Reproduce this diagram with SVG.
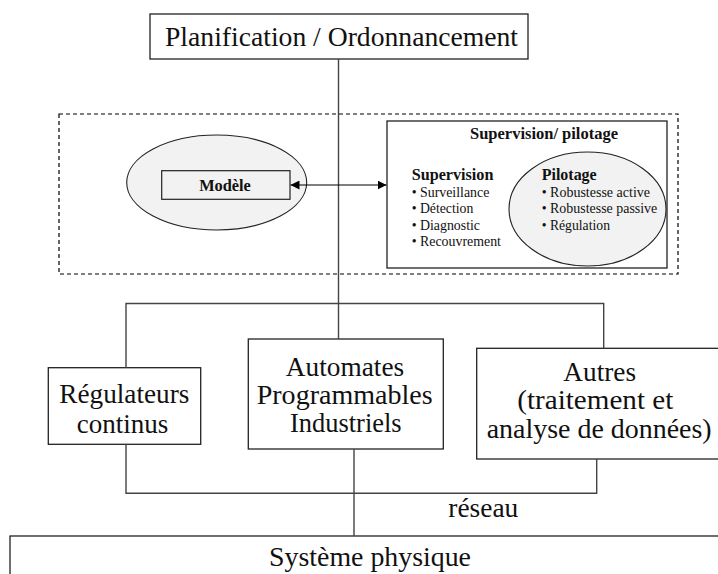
<svg xmlns="http://www.w3.org/2000/svg" width="718" height="574" viewBox="0 0 718 574">
<defs>
<style>
.box{fill:#fff;stroke:#222;stroke-width:1.3}
.ell{fill:#f2f2f2;stroke:#222;stroke-width:1.1}
.ln{fill:none;stroke:#444;stroke-width:1.4}
.big{font-family:"Liberation Serif","Times New Roman",serif;font-size:27px;fill:#111;text-anchor:middle}
.hd{font-family:"Liberation Serif","Times New Roman",serif;font-size:16px;font-weight:bold;fill:#111}
.sm{font-family:"Liberation Serif","Times New Roman",serif;font-size:14px;fill:#111}
</style>
<marker id="ah" viewBox="0 0 10 10" refX="10" refY="5" markerWidth="9" markerHeight="9" markerUnits="userSpaceOnUse" orient="auto-start-reverse">
<path d="M0,0 L10,5 L0,10 Z" fill="#000"/>
</marker>
</defs>
<rect width="718" height="574" fill="#fff"/>

<g id="dashed-frame">
<rect x="59" y="114" width="619" height="160" fill="none" stroke="#000" stroke-width="1.2" stroke-dasharray="4 3"/>
</g>

<g id="planification">
<rect class="box" x="150" y="14" width="378" height="45"/>
<text class="big" x="341.5" y="46" textLength="353" lengthAdjust="spacingAndGlyphs" style="font-size:28px">Planification / Ordonnancement</text>
</g>

<g id="modele">
<ellipse class="ell" cx="216.7" cy="182.5" rx="90" ry="47.5"/>
<rect x="161.7" y="170.7" width="128.3" height="28.6" fill="#f2f2f2" stroke="#222" stroke-width="1.2"/>
<text class="hd" x="225" y="190.5" text-anchor="middle" textLength="51.7" lengthAdjust="spacingAndGlyphs">Modèle</text>
</g>

<g id="supervision-pilotage">
<rect x="387" y="121" width="280" height="147" fill="#fff" stroke="#222" stroke-width="1.3"/>
<text class="hd" x="544" y="139" text-anchor="middle" textLength="148" lengthAdjust="spacingAndGlyphs">Supervision/ pilotage</text>
<text class="hd" x="411.7" y="180" textLength="81.7" lengthAdjust="spacingAndGlyphs">Supervision</text>
<text class="sm" x="411.7" y="196.5" textLength="77.6" lengthAdjust="spacingAndGlyphs">• Surveillance</text>
<text class="sm" x="411.7" y="213" textLength="61.6" lengthAdjust="spacingAndGlyphs">• Détection</text>
<text class="sm" x="411.7" y="229.5" textLength="68.3" lengthAdjust="spacingAndGlyphs">• Diagnostic</text>
<text class="sm" x="411.7" y="246" textLength="89.3" lengthAdjust="spacingAndGlyphs">• Recouvrement</text>
</g>

<g id="pilotage">
<ellipse class="ell" cx="587.5" cy="209" rx="78.5" ry="57"/>
<text class="hd" x="541.7" y="180" textLength="55" lengthAdjust="spacingAndGlyphs">Pilotage</text>
<text class="sm" x="541.7" y="196.5" textLength="108.3" lengthAdjust="spacingAndGlyphs">• Robustesse active</text>
<text class="sm" x="541.7" y="213" textLength="115.6" lengthAdjust="spacingAndGlyphs">• Robustesse passive</text>
<text class="sm" x="541.7" y="229.5" textLength="68.3" lengthAdjust="spacingAndGlyphs">• Régulation</text>
</g>

<g id="regulateurs">
<rect class="box" x="48.3" y="367.7" width="152.4" height="76.6"/>
<text class="big" x="124.3" y="402.7" textLength="130" lengthAdjust="spacingAndGlyphs">Régulateurs</text>
<text class="big" x="122.5" y="432.7" textLength="91.7" lengthAdjust="spacingAndGlyphs">continus</text>
</g>

<g id="automates">
<rect class="box" x="248.3" y="339" width="195" height="110"/>
<text class="big" x="345" y="376" textLength="118.3" lengthAdjust="spacingAndGlyphs">Automates</text>
<text class="big" x="344.7" y="404" textLength="176" lengthAdjust="spacingAndGlyphs">Programmables</text>
<text class="big" x="345.8" y="431.5" textLength="111.7" lengthAdjust="spacingAndGlyphs">Industriels</text>
</g>

<g id="autres">
<rect class="box" x="476.7" y="348.3" width="250" height="110.7"/>
<text class="big" x="599.7" y="381" textLength="72.7" lengthAdjust="spacingAndGlyphs">Autres</text>
<text class="big" x="595.3" y="409" textLength="156" lengthAdjust="spacingAndGlyphs">(traitement et</text>
<text class="big" x="599.2" y="437.5" textLength="225" lengthAdjust="spacingAndGlyphs">analyse de données)</text>
</g>

<g id="reseau">
<text class="big" x="483.3" y="517.3" textLength="70" lengthAdjust="spacingAndGlyphs">réseau</text>
</g>

<g id="systeme">
<rect class="box" x="10" y="536" width="720" height="50"/>
<text class="big" x="370" y="566" textLength="202" lengthAdjust="spacingAndGlyphs">Système physique</text>
</g>

<g id="connectors">
<line class="ln" x1="338.5" y1="59" x2="338.5" y2="339"/>
<polyline class="ln" points="126,367.7 126,303.5 603.7,303.5 603.7,348.3"/>
<polyline class="ln" points="126,444.3 126,493.3 596.7,493.3 596.7,459"/>
<line class="ln" x1="354" y1="449" x2="354" y2="536"/>
<line x1="290.5" y1="185" x2="386.5" y2="185" stroke="#000" stroke-width="1.2" marker-start="url(#ah)" marker-end="url(#ah)"/>
</g>
</svg>
